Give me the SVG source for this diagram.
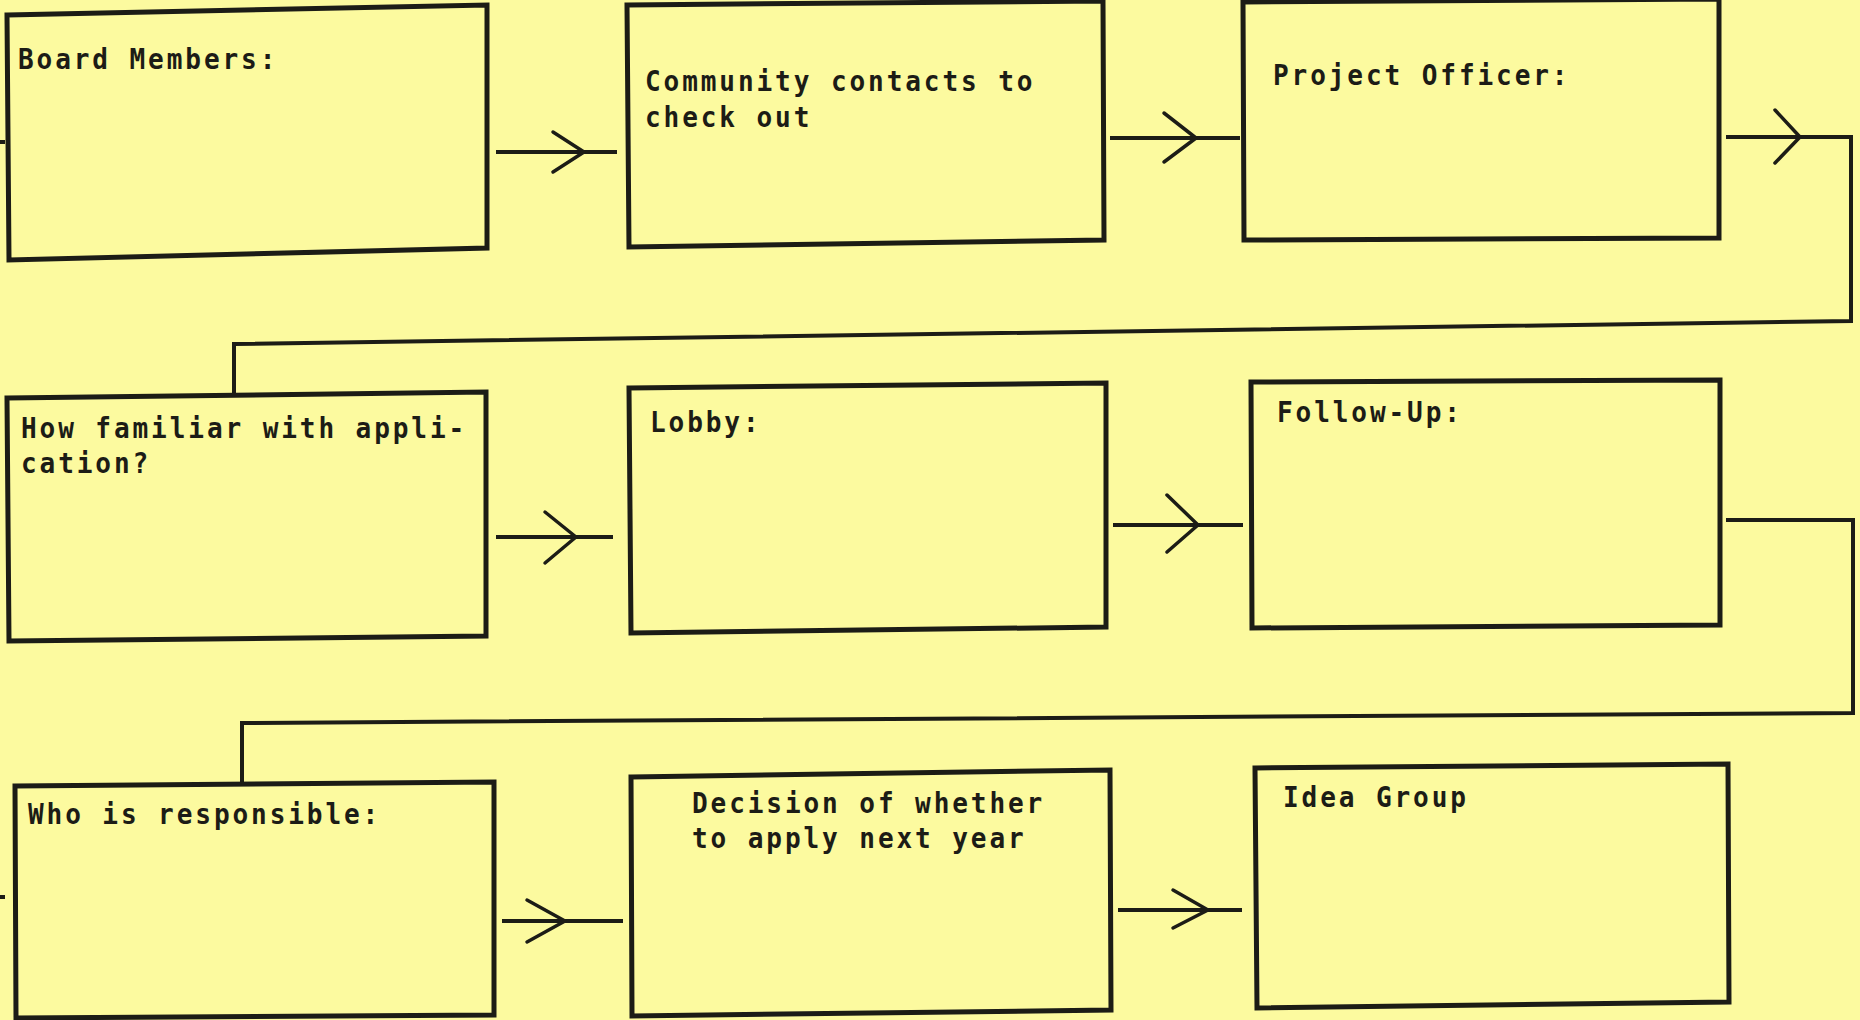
<svg xmlns="http://www.w3.org/2000/svg" width="1860" height="1020" viewBox="0 0 1860 1020">
<style>
.bg{fill:#fcfa9f}
.box{fill:none;stroke:#1c1c16;stroke-width:5;stroke-linejoin:miter}
.con{fill:none;stroke:#1c1c16;stroke-width:4;stroke-linejoin:miter}
.head{fill:none;stroke:#1c1c16;stroke-width:3.5;stroke-linecap:round;stroke-linejoin:round}
.t{font-family:"DejaVu Sans Mono","Liberation Mono",monospace;font-size:29px;font-weight:bold;letter-spacing:3.2px;fill:#1c1c16}
</style>
<rect class="bg" x="0" y="0" width="1860" height="1020"/>
<g id="connectors">
<path class="con" d="M0 142 H5"/>
<path class="con" d="M0 897 H5"/>
<path class="con" d="M496 152 H617"/>
<path class="head" d="M553 132 L584 152 L553 172"/>
<path class="con" d="M1110 138 H1240"/>
<path class="head" d="M1164 113 L1196 138 L1164 162"/>
<path class="con" d="M1726 137 H1851 V321 L234 344 V393"/>
<path class="head" d="M1775 110 L1800 137 L1775 163"/>
<path class="con" d="M496 537 H613"/>
<path class="head" d="M545 512 L576 537 L545 563"/>
<path class="con" d="M1113 525 H1243"/>
<path class="head" d="M1167 495 L1198 525 L1167 552"/>
<path class="con" d="M1726 520 H1853 V713 L242 723 V783"/>
<path class="con" d="M502 921 H623"/>
<path class="head" d="M527 900 L565 921 L527 942"/>
<path class="con" d="M1118 910 H1242"/>
<path class="head" d="M1173 890 L1208 910 L1173 928"/>
</g>
<g id="board-members">
<path class="box" d="M7 15 L487 5 L487 248 L9 260 Z"/>
<text class="t" transform="translate(18 69) scale(0.9 1)">Board Members:</text>
</g>
<g id="community-contacts">
<path class="box" d="M627 5 L1103 1 L1104 240 L629 247 Z"/>
<text class="t" transform="translate(645 91) scale(0.9 1)">Community contacts to</text>
<text class="t" transform="translate(645 127) scale(0.9 1)">check out</text>
</g>
<g id="project-officer">
<path class="box" d="M1243 2 L1719 -1 L1719 238 L1244 240 Z"/>
<text class="t" transform="translate(1273 85) scale(0.9 1)">Project Officer:</text>
</g>
<g id="how-familiar">
<path class="box" d="M7 398 L486 392 L486 636 L9 641 Z"/>
<text class="t" transform="translate(21 438) scale(0.9 1)">How familiar with appli-</text>
<text class="t" transform="translate(21 473) scale(0.9 1)">cation?</text>
</g>
<g id="lobby">
<path class="box" d="M629 388 L1106 383 L1106 627 L631 633 Z"/>
<text class="t" transform="translate(650 432) scale(0.9 1)">Lobby:</text>
</g>
<g id="follow-up">
<path class="box" d="M1251 382 L1720 380 L1720 625 L1252 628 Z"/>
<text class="t" transform="translate(1277 422) scale(0.9 1)">Follow-Up:</text>
</g>
<g id="who-responsible">
<path class="box" d="M15 786 L494 782 L494 1015 L16 1018 Z"/>
<text class="t" transform="translate(28 824) scale(0.9 1)">Who is responsible:</text>
</g>
<g id="decision">
<path class="box" d="M631 777 L1110 770 L1111 1010 L632 1016 Z"/>
<text class="t" transform="translate(692 813) scale(0.9 1)">Decision of whether</text>
<text class="t" transform="translate(692 848) scale(0.9 1)">to apply next year</text>
</g>
<g id="idea-group">
<path class="box" d="M1255 768 L1728 764 L1729 1002 L1257 1008 Z"/>
<text class="t" transform="translate(1283 807) scale(0.9 1)">Idea Group</text>
</g>
</svg>
